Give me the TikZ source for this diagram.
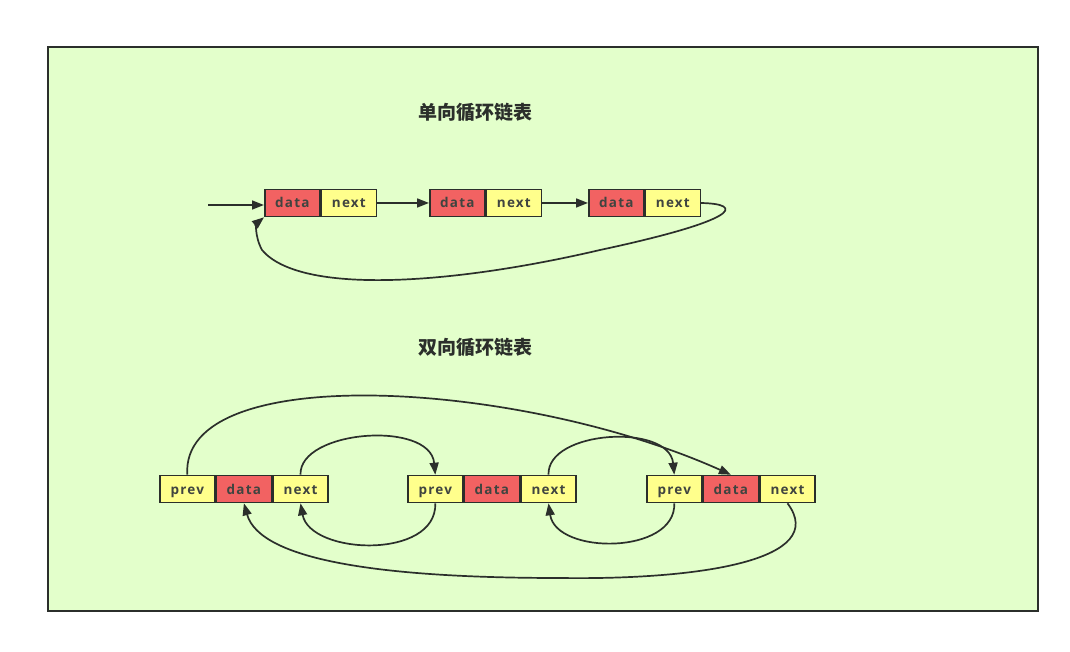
\documentclass[tikz,border=0pt]{standalone}
\usepackage{fontspec}
\setmainfont{Open Sans}
\newfontfamily\cjk{Noto Sans CJK SC}
\newfontfamily\lbl[LetterSpace=9]{Open Sans}
\usetikzlibrary{arrows.meta}
\definecolor{bgg}{HTML}{E3FFCB}
\definecolor{redc}{HTML}{F26262}
\definecolor{yelc}{HTML}{FFFF8C}
\definecolor{ink}{HTML}{2B2F2B}
\tikzset{
  cell/.style={draw=ink, line width=1.6pt, minimum width=55pt, minimum height=27pt, inner sep=0pt, anchor=west, text height=11pt, text depth=1pt, font=\lbl\fontsize{13.5}{15}\selectfont\bfseries, text=ink!90},
  rc/.style={cell, fill=redc},
  yc/.style={cell, fill=yelc},
  conn/.style={draw=ink, line width=1.7pt, -{Triangle[length=12pt,width=9pt]}},
  ttl/.style={font=\cjk\fontsize{19}{22}\selectfont\bfseries, text=ink}
}
\begin{document}
\begin{tikzpicture}[x=1pt,y=-1pt]
\useasboundingbox (0,0) rectangle (1070,652);
\fill[white] (0,0) rectangle (1070,652);
\draw[ink, line width=1.6pt, fill=bgg] (48,47) rectangle (1038,611);
\node[ttl] (t1) at (475,112) {单向循环链表};
\node[ttl] (t2) at (475,347) {双向循环链表};
% top row
\node[rc] (d1) at (264,203) {data};
\node[yc] (n1) at (d1.east) {next};
\node[rc] (d2) at (429,203) {data};
\node[yc] (n2) at (d2.east) {next};
\node[rc] (d3) at (588,203) {data};
\node[yc] (n3) at (d3.east) {next};
\coordinate (in) at (208,205);
\draw[conn] (in) -- (d1.west |- in);
\draw[conn] (n1.east) -- (d2.west);
\draw[conn] (n2.east) -- (d3.west);
\draw[conn] (n3.east) .. controls (745,204) and (740,220) .. (600,250)
  .. controls (450,285) and (300,295) .. (262,250) .. controls (254,235) and (257,223) .. (d1.south west);
% bottom row
\node[yc] (p1) at (159,489) {prev};
\node[rc] (dd1) at (p1.east) {data};
\node[yc] (nn1) at (dd1.east) {next};
\node[yc] (p2) at (407,489) {prev};
\node[rc] (dd2) at (p2.east) {data};
\node[yc] (nn2) at (dd2.east) {next};
\node[yc] (p3) at (646,489) {prev};
\node[rc] (dd3) at (p3.east) {data};
\node[yc] (nn3) at (dd3.east) {next};
\draw[conn] (nn1.north) .. controls (299,430) and (430,420) .. (p2.north);
\draw[conn] (nn2.north) .. controls (547,430) and (669,423) .. (p3.north);
\draw[conn] (p1.north) .. controls (180,360) and (520,380) .. (dd3.north);
\draw[conn] (p2.south) .. controls (437,560) and (310,555) .. (nn1.south);
\draw[conn] (p3.south) .. controls (676,555) and (556,555) .. (nn2.south);
\draw[conn] (nn3.south) .. controls (830,560) and (700,580) .. (560,578)
  .. controls (380,578) and (260,560) .. (dd1.south);
\end{tikzpicture}
\end{document}
